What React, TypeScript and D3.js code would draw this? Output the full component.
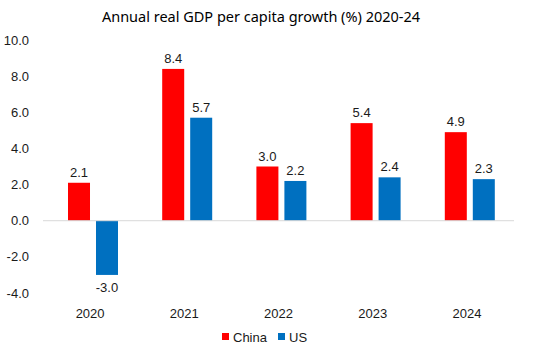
import { useRef, useEffect } from 'react';
import * as d3 from 'd3';

const years = ['2020', '2021', '2022', '2023', '2024'];
const china = [2.1, 8.4, 3.0, 5.4, 4.9];
const us = [-3.0, 5.7, 2.2, 2.4, 2.3];
const yTicks = [-4, -2, 0, 2, 4, 6, 8, 10];

const series = [
  { name: 'China', values: china, color: '#FF0000' },
  { name: 'US', values: us, color: '#0070C0' },
];

const W = 540;
const H = 353;
const labelFont = '"Liberation Sans", Arial, sans-serif';

const App = () => {
  const svgRef = useRef<SVGSVGElement>(null);

  useEffect(() => {
    const svg = d3.select(svgRef.current);
    svg.selectAll('*').remove();

    const x = d3.scaleBand().domain(years).range([43, 514]);
    const y = d3.scaleLinear().domain([-4, 10]).range([293, 40]);
    // bar slots inside each year band, in pixels
    const inner = d3.scaleBand().domain(series.map(s => s.name)).range([25, 75]).paddingInner(0.214);
    const bw = x.bandwidth();

    svg.append('text')
      .attr('x', 261).attr('y', 22)
      .attr('text-anchor', 'middle')
      .attr('font-family', '"Noto Sans", sans-serif')
      .attr('font-size', 14.5)
      .attr('fill', '#000')
      .text('Annual real GDP per capita growth (%) 2020-24');

    // y labels, no axis line
    svg.append('g').selectAll('text')
      .data(yTicks)
      .enter()
      .append('text')
      .attr('x', 29)
      .attr('y', d => y(d))
      .attr('dy', '0.35em')
      .attr('text-anchor', 'end')
      .attr('font-family', labelFont)
      .attr('font-size', 13)
      .attr('fill', '#1a1a1a')
      .text(d => d.toFixed(1));

    const groups = svg.append('g').selectAll('g')
      .data(years)
      .enter()
      .append('g')
      .attr('transform', d => `translate(${x(d)},0)`);

    series.forEach(s => {
      groups.append('rect')
        .attr('x', inner(s.name) as number)
        .attr('width', inner.bandwidth())
        .attr('y', (_, i) => y(Math.max(0, s.values[i])))
        .attr('height', (_, i) => Math.abs(y(s.values[i]) - y(0)))
        .attr('fill', s.color);

      groups.append('text')
        .attr('x', (inner(s.name) as number) + inner.bandwidth() / 2)
        .attr('y', (_, i) => s.values[i] >= 0 ? y(s.values[i]) - 6 : y(s.values[i]) + 17)
        .attr('text-anchor', 'middle')
        .attr('font-family', labelFont)
        .attr('font-size', 13)
        .attr('fill', '#1a1a1a')
        .text((_, i) => s.values[i].toFixed(1));
    });

    svg.append('line')
      .attr('x1', 43).attr('x2', 514)
      .attr('y1', y(0)).attr('y2', y(0))
      .attr('stroke', '#d9d9d9')
      .attr('stroke-width', 1);

    svg.append('g').selectAll('text')
      .data(years)
      .enter()
      .append('text')
      .attr('x', d => (x(d) as number) + bw / 2)
      .attr('y', 318)
      .attr('text-anchor', 'middle')
      .attr('font-family', labelFont)
      .attr('font-size', 13)
      .attr('fill', '#1a1a1a')
      .text(d => d);

    const legend = svg.append('g').attr('transform', 'translate(222,337)');
    const offsets = [0, 56];
    series.forEach((s, i) => {
      legend.append('rect')
        .attr('x', offsets[i]).attr('y', -4)
        .attr('width', 7).attr('height', 7)
        .attr('fill', s.color);
      legend.append('text')
        .attr('x', offsets[i] + 11).attr('y', 0)
        .attr('dy', '0.35em')
        .attr('font-family', labelFont)
        .attr('font-size', 13)
        .attr('fill', '#1a1a1a')
        .text(s.name);
    });
  }, []);

  return (
    <svg ref={svgRef} width={W} height={H} style={{ position: 'absolute', left: 0, top: 0, background: '#fff' }}></svg>
  );
};

export default App;
